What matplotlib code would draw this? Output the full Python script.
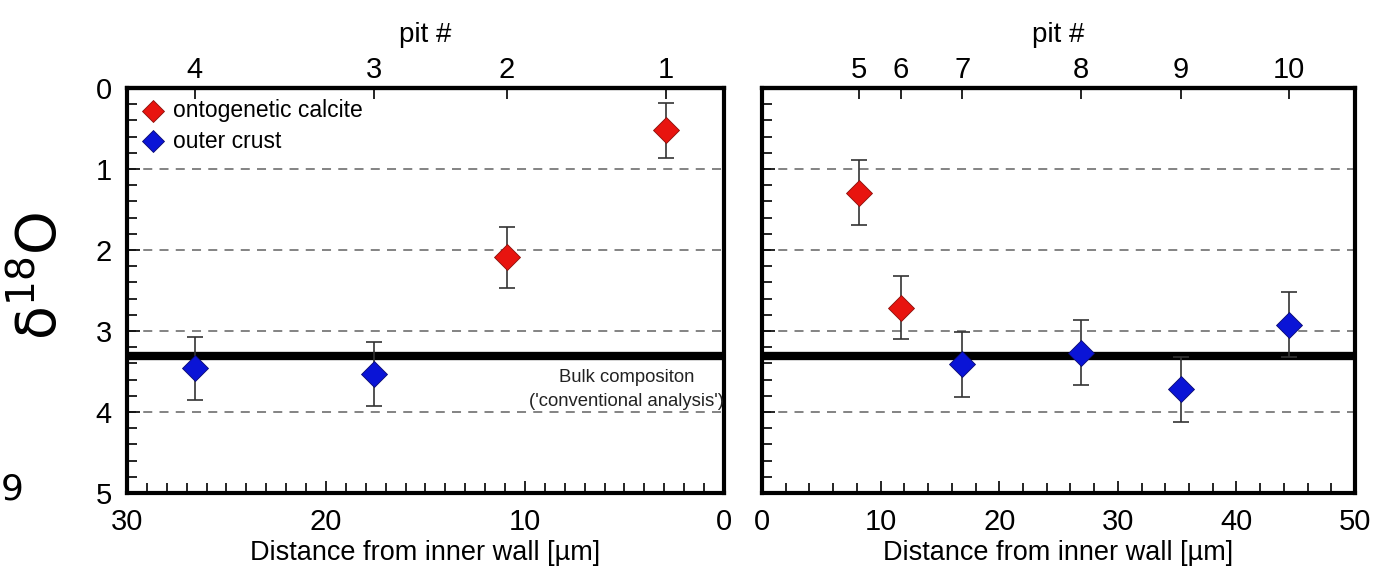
import matplotlib
matplotlib.use("Agg")
import matplotlib.pyplot as plt
from matplotlib.ticker import MultipleLocator

plt.rcParams['font.family'] = ['Liberation Sans', 'DejaVu Sans']

# left panel (pits 1-4), distance from inner wall [µm]
left_pits = ['4', '3', '2', '1']
left_x = [26.6, 17.6, 10.9, 2.9]
left_y = [3.46, 3.53, 2.09, 0.52]
left_err = [0.39, 0.39, 0.38, 0.34]
left_kind = ['crust', 'crust', 'onto', 'onto']

# right panel (pits 5-10)
right_pits = ['5', '6', '7', '8', '9', '10']
right_x = [8.2, 11.7, 16.9, 26.9, 35.3, 44.4]
right_y = [1.29, 2.71, 3.41, 3.27, 3.72, 2.92]
right_err = [0.40, 0.385, 0.40, 0.40, 0.40, 0.40]
right_kind = ['onto', 'onto', 'crust', 'crust', 'crust', 'crust']

bulk = 3.31
grid_levels = [1, 2, 3, 4]

colors = {'onto': '#e8140f', 'crust': '#0a14d6'}
edges = {'onto': '#8a0f0a', 'crust': '#0a0a70'}

fig = plt.figure(figsize=(14, 5.69), dpi=100)
ax1 = fig.add_axes([0.0907, 0.1336, 0.4264, 0.7117])
ax2 = fig.add_axes([0.5443, 0.1336, 0.4236, 0.7117])


def draw(ax, xs, ys, errs, kinds, pits, xlim, xmaj, xmin):
    for lv in grid_levels:
        ax.axhline(lv, color='#7a7a7a', lw=1.3, ls=(0, (5, 4)), zorder=1)
    ax.axhline(bulk, color='black', lw=6, zorder=2)
    for x, y, e, k in zip(xs, ys, errs, kinds):
        ax.errorbar(x, y, yerr=e, fmt='none', ecolor='#333333', elinewidth=1.2,
                    capsize=6, capthick=1.2, zorder=3)
        ax.plot(x, y, 'D', ms=13, color=colors[k], mec=edges[k], mew=0.6, zorder=4)
    ax.set_xlim(*xlim)
    ax.set_ylim(5, 0)
    ax.xaxis.set_major_locator(MultipleLocator(xmaj))
    ax.xaxis.set_minor_locator(MultipleLocator(xmin))
    ax.yaxis.set_major_locator(MultipleLocator(1))
    ax.yaxis.set_minor_locator(MultipleLocator(0.2))
    ax.tick_params(axis='both', which='both', direction='in', top=False, right=False,
                   labelsize=21, width=1.2)
    ax.tick_params(axis='both', which='major', length=9)
    ax.tick_params(axis='both', which='minor', length=7)
    ax.tick_params(axis='x', pad=11)
    ax.tick_params(axis='y', pad=11)
    for s in ax.spines.values():
        s.set_linewidth(3)
    ax.set_xlabel('Distance from inner wall [µm]', fontsize=19.5, labelpad=3)
    top = ax.secondary_xaxis('top')
    top.set_xticks(xs)
    top.set_xticklabels(pits)
    top.tick_params(direction='in', length=8, width=1.2, labelsize=21, pad=3)
    top.spines['top'].set_linewidth(3)
    top.set_xlabel('pit #', fontsize=20, labelpad=10)


draw(ax1, left_x, left_y, left_err, left_kind, left_pits, (30, 0), 10, 1)
draw(ax2, right_x, right_y, right_err, right_kind, right_pits, (0, 50), 10, 2)
ax2.set_yticklabels([])

# legend
ax1.plot(28.7, 0.28, 'D', ms=11, color=colors['onto'], mec=edges['onto'], mew=0.6)
ax1.plot(28.7, 0.66, 'D', ms=11, color=colors['crust'], mec=edges['crust'], mew=0.6)
ax1.text(27.7, 0.28, 'ontogenetic calcite', fontsize=16.5, va='center', ha='left')
ax1.text(27.7, 0.66, 'outer crust', fontsize=16.5, va='center', ha='left')

ax1.text(4.9, 3.58, 'Bulk compositon', fontsize=13.3, ha='center', va='center', color='#222222')
ax1.text(4.9, 3.87, "('conventional analysis')", fontsize=13.3, ha='center', va='center', color='#222222')

fig.text(0.029, 0.515, 'δ$^{18}$O', rotation=90, fontsize=40, ha='center', va='center',
         family='DejaVu Sans')
fig.text(0.0005, 0.14, '9', fontsize=26, ha='left', va='center', family='DejaVu Sans')

fig.savefig('out.png', dpi=100)
